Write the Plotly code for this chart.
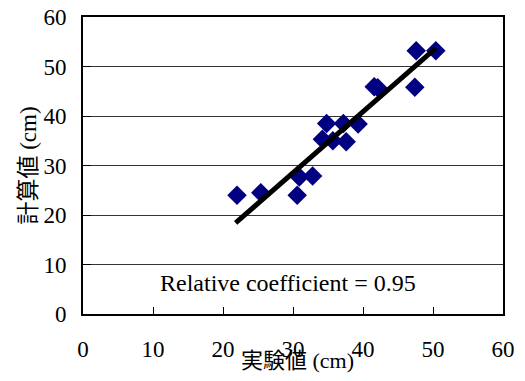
import plotly.graph_objects as go

# Measured (x) vs calculated (y) values, cm
experimental = [22.0, 25.4, 30.6, 30.9, 32.8, 34.2, 34.8, 35.7, 37.2, 37.6, 39.3, 41.6, 42.1, 47.4, 47.6, 50.4]
calculated   = [24.0, 24.5, 24.0, 27.7, 27.9, 35.3, 38.5, 35.0, 38.5, 34.8, 38.4, 45.9, 45.7, 45.8, 53.2, 53.2]

# Regression line end points
fit_x = [21.8, 50.4]
fit_y = [18.4, 53.7]

x_ticks = [0, 10, 20, 30, 40, 50, 60]
y_ticks = [0, 10, 20, 30, 40, 50, 60]

serif = "'Liberation Serif', 'Times New Roman', serif"
cjk_span = "<span style=\"font-family:'Noto Sans CJK JP'\">{}</span>"

fig = go.Figure()
fig.add_trace(go.Scatter(
    x=experimental, y=calculated, mode="markers",
    marker=dict(symbol="diamond", size=15, color="#000080", line=dict(width=0)),
    showlegend=False, hoverinfo="skip"))
fig.add_trace(go.Scatter(
    x=fit_x, y=fit_y, mode="lines",
    line=dict(color="black", width=5),
    showlegend=False, hoverinfo="skip"))

fig.update_layout(
    width=525, height=381,
    margin=dict(l=83, r=22, t=17, b=67, autoexpand=False),
    paper_bgcolor="white", plot_bgcolor="white",
    font=dict(family=serif, size=22, color="black"),
    xaxis=dict(range=[0, 60], tickvals=x_ticks, ticktext=[str(v) for v in x_ticks],
               showgrid=False, zeroline=False, automargin=False,
               showline=True, linecolor="black", linewidth=2, mirror=True,
               ticks="inside", ticklen=7, tickcolor="black", tickwidth=1,
               ticklabelstandoff=13, tickfont=dict(family=serif, size=23)),
    yaxis=dict(range=[0, 60], tickvals=y_ticks, ticktext=[str(v) for v in y_ticks],
               showgrid=True, gridcolor="#333333", gridwidth=1, zeroline=False, automargin=False,
               showline=True, linecolor="black", linewidth=2, mirror=True,
               ticks="inside", ticklen=8, tickcolor="black", tickwidth=1,
               ticklabelstandoff=10, tickfont=dict(family=serif, size=23),
               title=dict(text=cjk_span.format("計算値") + " (cm)",
                          font=dict(family=serif, size=23), standoff=0)),
    annotations=[
        dict(text="Relative coefficient = 0.95", x=29.3, y=6.3, xref="x", yref="y",
             showarrow=False, font=dict(family=serif, size=24)),
        dict(text=cjk_span.format("実験値") + " (cm)",
             x=0.51, y=-0.148, xref="paper", yref="paper",
             xanchor="center", yanchor="middle", showarrow=False,
             font=dict(family=serif, size=22)),
    ],
)

fig.write_html("out.html", config={"displayModeBar": False},
               post_script="document.body.style.margin='0';")
